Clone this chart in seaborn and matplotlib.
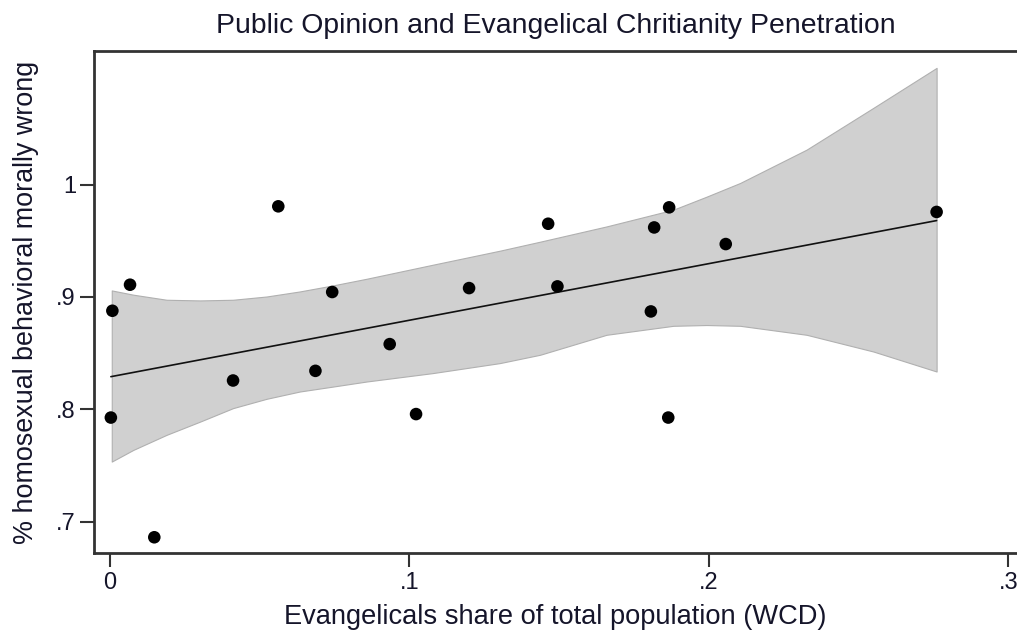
import numpy as np
import pandas as pd
import matplotlib
matplotlib.use('Agg')
import matplotlib.pyplot as plt
import seaborn as sns

# ── Data ─────────────────────────────────────
evang_share = [0.0008, 0.0003, 0.0067, 0.0148, 0.0411, 0.0562, 0.0686, 0.0742,
               0.0934, 0.1022, 0.1199, 0.1463, 0.1494, 0.1806, 0.1864, 0.1817,
               0.1867, 0.2056, 0.2760]
pct_wrong = [0.8877, 0.7926, 0.9109, 0.6860, 0.8256, 0.9807, 0.8342, 0.9044,
             0.8580, 0.7957, 0.9079, 0.9652, 0.9094, 0.8871, 0.7926, 0.9619,
             0.9798, 0.9471, 0.9757]

# confidence band edges as drawn in the reference
band_x = [0.0006, 0.0078, 0.0189, 0.0301, 0.0411, 0.0523, 0.0634, 0.0745,
          0.0857, 0.1078, 0.1302, 0.1436, 0.1658, 0.1881, 0.1992, 0.2104,
          0.2326, 0.2549, 0.2760]
band_upper = [0.9058, 0.9020, 0.8975, 0.8969, 0.8975, 0.9004, 0.9049, 0.9103,
              0.9162, 0.9287, 0.9412, 0.9492, 0.9628, 0.9777, 0.9893, 1.0015,
              1.0312, 1.0684, 1.1040]
band_lower = [0.7534, 0.7638, 0.7772, 0.7890, 0.8010, 0.8093, 0.8158, 0.8202,
              0.8247, 0.8322, 0.8411, 0.8485, 0.8663, 0.8743, 0.8750, 0.8743,
              0.8663, 0.8514, 0.8336]

x_ticks = [0, 0.1, 0.2, 0.3]
x_tick_labels = ['0', '.1', '.2', '.3']
y_ticks = [0.7, 0.8, 0.9, 1.0]
y_tick_labels = ['.7', '.8', '.9', '1']

df = pd.DataFrame({'share': evang_share, 'wrong': pct_wrong})

# ── Linear fit ───────────────────────────────
b1, b0 = np.polyfit(df['share'], df['wrong'], 1)
grid = np.linspace(df['share'].min(), df['share'].max(), 100)
fit_df = pd.DataFrame({'share': grid, 'fit': b0 + b1 * grid})

# ── Plot ─────────────────────────────────────
sns.set_style('white')
plt.rcParams['font.family'] = ['Liberation Sans', 'DejaVu Sans']
TEXT = '#15152a'

fig = plt.figure(figsize=(10.17, 6.33), dpi=100)
ax = fig.add_axes([0.0924, 0.1264, 0.9076, 0.793])

ax.fill_between(band_x, band_lower, band_upper,
                facecolor='#d0d0d0', edgecolor='#b0b0b0', linewidth=0.8, zorder=1)
sns.lineplot(data=fit_df, x='share', y='fit', ax=ax, color='#111111',
             linewidth=1.2, zorder=2)
sns.scatterplot(data=df, x='share', y='wrong', ax=ax, color='black',
                s=82, edgecolor='none', zorder=3)

ax.set_xlim(-0.00534, 0.30284)
ax.set_ylim(0.672, 1.119)
ax.set_xticks(x_ticks, x_tick_labels)
ax.set_yticks(y_ticks, y_tick_labels)
ax.tick_params(axis='both', length=10, width=1.5, color='#333333',
               labelsize=17, labelcolor=TEXT, direction='out')
ax.tick_params(axis='x', bottom=True, pad=4)
ax.tick_params(axis='y', left=True, pad=3)

for side in ['left', 'bottom', 'top']:
    ax.spines[side].set_color('#333333')
    ax.spines[side].set_linewidth(2)
ax.spines['right'].set_visible(False)

ax.set_xlabel('Evangelicals share of total population (WCD)', fontsize=19.6,
              color=TEXT, labelpad=7)
ax.set_ylabel('% homosexual behavioral morally wrong', fontsize=19.4,
              color=TEXT, labelpad=12)
ax.set_title('Public Opinion and Evangelical Chritianity Penetration',
             fontsize=20.4, color=TEXT, pad=13)

plt.savefig('out.png', dpi=100)
plt.close()
